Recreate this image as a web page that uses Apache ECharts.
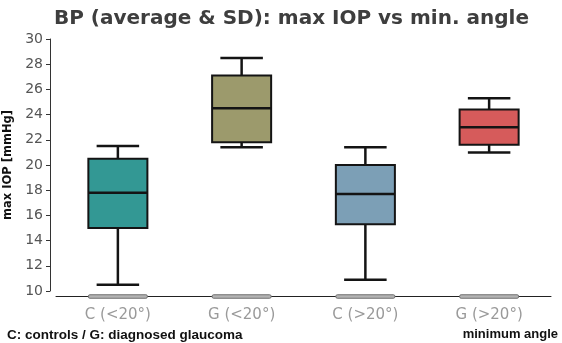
<!DOCTYPE html>
<html>
<head>
<meta charset="utf-8">
<script src="https://cdn.jsdelivr.net/npm/echarts@6/dist/echarts.min.js"></script>
<style>
html,body{margin:0;padding:0;background:#fff;}
#chart{width:562px;height:343px;}
</style>
</head>
<body>
<div id="chart"></div>
<script>
const categories = ['C (<20°)', 'G (<20°)', 'C (>20°)', 'G (>20°)'];
const whiskerLow = [10.5, 21.4, 10.9, 21.0];
const boxLow = [15.0, 21.8, 15.3, 21.6];
const medians = [17.8, 24.5, 17.7, 23.0];
const boxHigh = [20.5, 27.1, 20.0, 24.4];
const whiskerHigh = [21.5, 28.5, 21.4, 25.3];
const yTicks = { min: 10, max: 30, interval: 2 };

const palette = ['#339894', '#9c9a6c', '#7c9fb6', '#d65b5b'];

const seriesData = categories.map((c, i) => [i, whiskerLow[i], boxLow[i], medians[i], boxHigh[i], whiskerHigh[i]]);

const chart = echarts.init(document.getElementById('chart'), null, { renderer: 'canvas' });

function renderItem(params, api) {
  const i = api.value(0);
  const band = api.size([1, 0])[0];
  const boxW = band * 0.477;
  const capW = boxW * 0.72;
  const pWL = api.coord([i, api.value(1)]);
  const pBL = api.coord([i, api.value(2)]);
  const pMd = api.coord([i, api.value(3)]);
  const pBH = api.coord([i, api.value(4)]);
  const pWH = api.coord([i, api.value(5)]);
  const pBase = api.coord([i, yTicks.min]);
  const x = pMd[0];
  const lineStyle = { stroke: '#141414', lineWidth: 2.5 };
  return {
    type: 'group',
    children: [
      { type: 'line', shape: { x1: x, y1: pWH[1], x2: x, y2: pBH[1] }, style: lineStyle },
      { type: 'line', shape: { x1: x, y1: pBL[1], x2: x, y2: pWL[1] }, style: lineStyle },
      { type: 'line', shape: { x1: x - capW / 2, y1: pWH[1], x2: x + capW / 2, y2: pWH[1] }, style: lineStyle },
      { type: 'line', shape: { x1: x - capW / 2, y1: pWL[1], x2: x + capW / 2, y2: pWL[1] }, style: lineStyle },
      { type: 'rect', shape: { x: x - boxW / 2, y: pBH[1], width: boxW, height: pBL[1] - pBH[1] },
        style: { fill: palette[i], stroke: '#141414', lineWidth: 2 } },
      { type: 'line', shape: { x1: x - boxW / 2, y1: pMd[1], x2: x + boxW / 2, y2: pMd[1] }, style: { stroke: '#141414', lineWidth: 2.5 } },
      { type: 'rect', shape: { x: x - boxW / 2, y: pBase[1] + 3.75, width: boxW, height: 3.5, r: 1.5 },
        style: { fill: '#b4b4b4', stroke: '#707070', lineWidth: 1 } }
    ]
  };
}

chart.setOption({
  animation: false,
  backgroundColor: '#ffffff',
  title: {
    text: 'BP (average & SD): max IOP vs min. angle',
    left: 49,
    top: 4,
    textStyle: { fontFamily: 'DejaVu Sans', fontWeight: 'bold', fontSize: 20, color: '#3e3e3e' }
  },
  grid: { left: 56, right: 11, top: 39, bottom: 52, containLabel: false, outerBoundsMode: 'none' },
  xAxis: {
    type: 'category',
    data: categories,
    boundaryGap: true,
    offset: 5,
    axisLine: { lineStyle: { color: '#222', width: 1 } },
    axisTick: { show: false },
    axisLabel: { color: '#9a9a9a', fontFamily: 'DejaVu Sans', fontSize: 15, margin: 12 },
    splitLine: { show: false }
  },
  yAxis: {
    type: 'value',
    min: yTicks.min,
    max: yTicks.max,
    interval: yTicks.interval,
    offset: 6,
    name: 'max IOP [mmHg]',
    nameLocation: 'middle',
    nameGap: 27,
    nameTextStyle: { fontFamily: 'DejaVu Sans', fontWeight: 'bold', fontSize: 11.5, color: '#111' },
    axisLine: { show: true, lineStyle: { color: '#333', width: 1 } },
    axisTick: { show: true, length: 4, lineStyle: { color: '#333' } },
    axisLabel: { color: '#555', fontFamily: 'DejaVu Sans', fontSize: 14, margin: 7 },
    splitLine: { show: false }
  },
  graphic: [
    { type: 'text', left: 7, top: 328,
      style: { text: 'C: controls / G: diagnosed glaucoma', font: 'bold 13.5px "Liberation Sans"', fill: '#111' } },
    { type: 'text', right: 4, top: 328,
      style: { text: 'minimum angle', font: 'bold 13px "Liberation Sans"', fill: '#111' } }
  ],
  series: [{
    type: 'custom',
    renderItem: renderItem,
    clip: false,
    encode: { x: 0, y: [1, 2, 3, 4, 5] },
    data: seriesData
  }]
});
</script>
</body>
</html>
